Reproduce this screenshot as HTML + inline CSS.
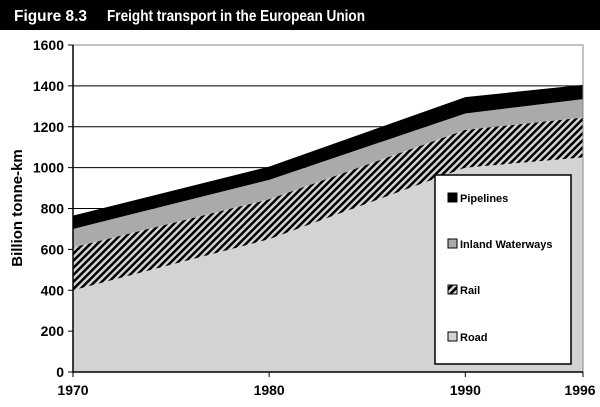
<!DOCTYPE html>
<html><head><meta charset="utf-8"><style>
body{margin:0;background:#fff;width:600px;height:402px;overflow:hidden;font-family:"Liberation Sans",sans-serif}
svg text{font-family:"Liberation Sans",sans-serif;font-weight:bold}
</style></head><body>
<svg width="600" height="402">
<defs>
<pattern id="hatch" patternUnits="userSpaceOnUse" width="5" height="5" patternTransform="rotate(45)">
<rect width="5" height="5" fill="#d3d3d3"/><rect width="2.5" height="5" fill="#000"/>
</pattern>
</defs>
<rect x="0" y="0" width="600" height="30" fill="#000"/>
<text x="14" y="21" fill="#fff" font-size="16" textLength="73" lengthAdjust="spacingAndGlyphs">Figure 8.3</text>
<text x="107" y="21" fill="#fff" font-size="16" textLength="258" lengthAdjust="spacingAndGlyphs">Freight transport in the European Union</text>
<g id="grid"></g>
<g id="areas"></g>
<rect x="73" y="45" width="510" height="327" fill="none" stroke="#888" stroke-width="1"/>
<g id="axes"></g>
<text transform="translate(22,208) rotate(-90)" text-anchor="middle" font-size="15">Billion tonne-km</text>
<g>
<rect x="435" y="175" width="136" height="189" fill="#fff" stroke="#000" stroke-width="1.5"/>
<rect x="448" y="193" width="9" height="9" fill="#000" stroke="#000"/>
<text x="460" y="202" font-size="11">Pipelines</text>
<rect x="448" y="239" width="9" height="9" fill="#aaa" stroke="#000"/>
<text x="460" y="248" font-size="11">Inland Waterways</text>
<rect x="448" y="285" width="9" height="9" fill="url(#hatch)" stroke="#000"/>
<text x="460" y="294" font-size="11">Rail</text>
<rect x="448" y="332" width="9" height="9" fill="#d3d3d3" stroke="#000"/>
<text x="460" y="341" font-size="11">Road</text>
</g>
</svg>
<script>
const years=[1970,1980,1990,1996];
const road=[400,650,1000,1050];
const rail=[210,195,185,195];
const waterways=[90,95,80,90];
const pipelines=[65,65,80,70];
const yTicks=[0,200,400,600,800,1000,1200,1400,1600];
const NS="http://www.w3.org/2000/svg";
function xS(v){return 73+(v-1970)*(510/26);}
function yS(v){return 372-v*(327/1600);}
const grid=document.getElementById('grid'),areas=document.getElementById('areas'),axes=document.getElementById('axes');
yTicks.forEach(t=>{
 if(t>0&&t<1600){const l=document.createElementNS(NS,'line');
 l.setAttribute('x1',73);l.setAttribute('x2',583);l.setAttribute('y1',yS(t));l.setAttribute('y2',yS(t));
 l.setAttribute('stroke','#000');l.setAttribute('stroke-width','1');
 
 
 grid.appendChild(l);}
 const tk=document.createElementNS(NS,'line');
 tk.setAttribute('x1',68);tk.setAttribute('x2',73);tk.setAttribute('y1',yS(t));tk.setAttribute('y2',yS(t));tk.setAttribute('stroke','#000');
 
 
 axes.appendChild(tk);
 const tx=document.createElementNS(NS,'text');
 tx.setAttribute('x',64);tx.setAttribute('y',yS(t)+5);tx.setAttribute('text-anchor','end');tx.setAttribute('font-size','14');tx.textContent=t;
 
 
 axes.appendChild(tx);
});
const series=[[road,'#d3d3d3','area-road'],[rail,'url(#hatch)','area-rail'],[waterways,'#aaa','area-inland-waterways'],[pipelines,'#000','area-pipelines']];
let base=years.map(()=>0);
series.forEach(([vals,fill,name])=>{
 const top=base.map((b,i)=>b+vals[i]);
 let d='M'+years.map((y,i)=>xS(y)+','+yS(top[i])).join(' L');
 for(let i=years.length-1;i>=0;i--)d+=' L'+xS(years[i])+','+yS(base[i]);
 d+='Z';
 const p=document.createElementNS(NS,'path');p.setAttribute('d',d);p.setAttribute('fill',fill);
 
 
 areas.appendChild(p);
 base=top;
});
const ax=document.createElementNS(NS,'path');
ax.setAttribute('d','M73,45 L73,372 L583,372');ax.setAttribute('stroke','#000');ax.setAttribute('stroke-width','1.5');ax.setAttribute('fill','none');


axes.appendChild(ax);
years.forEach(y=>{
 const tk=document.createElementNS(NS,'line');
 tk.setAttribute('x1',xS(y));tk.setAttribute('x2',xS(y));tk.setAttribute('y1',372);tk.setAttribute('y2',377);tk.setAttribute('stroke','#000');
 
 
 axes.appendChild(tk);
 const tx=document.createElementNS(NS,'text');
 tx.setAttribute('x',Math.min(xS(y),580));tx.setAttribute('y',395);tx.setAttribute('text-anchor','middle');tx.setAttribute('font-size','14');tx.textContent=y;
 
 
 axes.appendChild(tx);
});
</script>
</body></html>
